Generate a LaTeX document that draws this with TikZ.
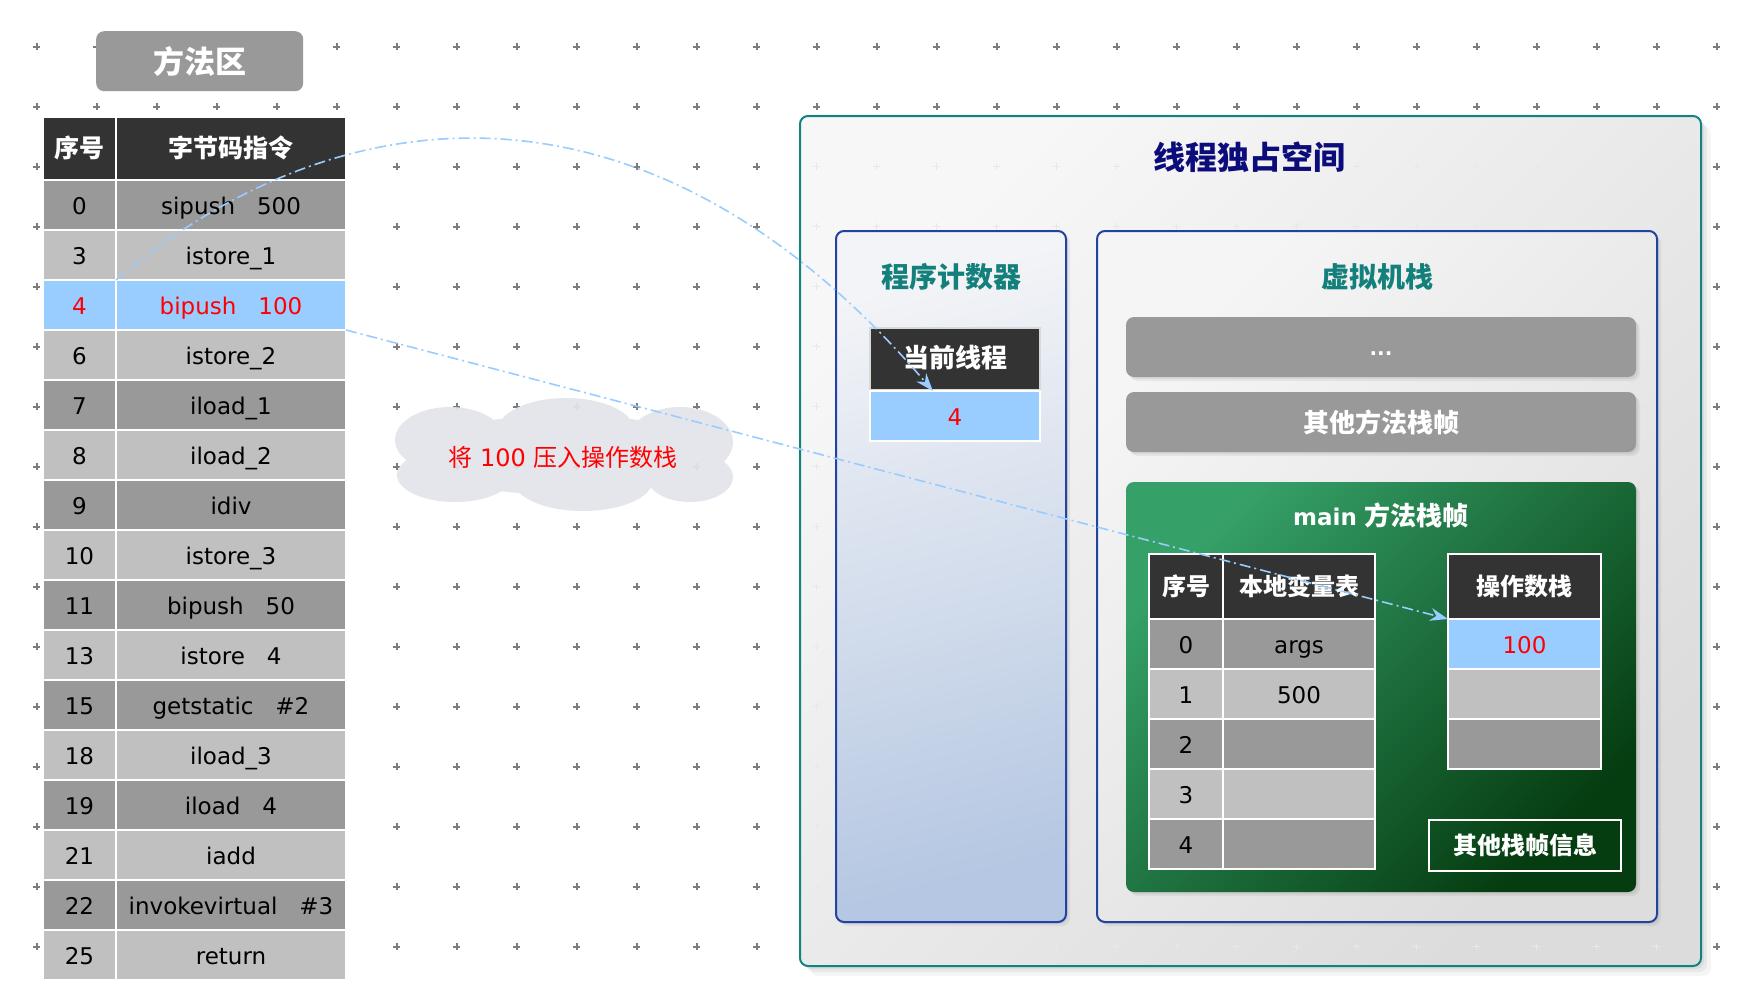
\documentclass[tikz,border=0pt]{standalone}
\usepackage{fontspec}
\setmainfont{DejaVu Sans}
\newfontfamily\cjk{Noto Sans CJK SC}
\usetikzlibrary{arrows.meta,shadows,calc}

\definecolor{celldark}{HTML}{999999}
\definecolor{celllight}{HTML}{C0C0C0}
\definecolor{cellhead}{HTML}{333333}
\definecolor{cellblue}{HTML}{99CCFF}
\definecolor{gridmark}{HTML}{7C7C7C}
\definecolor{tealline}{HTML}{12847F}
\definecolor{navytitle}{HTML}{0C0C7A}
\definecolor{panelline}{HTML}{2244A0}
\definecolor{paneltitle}{HTML}{13807C}
\definecolor{greenlight}{HTML}{35A068}
\definecolor{greendark}{HTML}{053C10}
\definecolor{flowblue}{HTML}{99CCFF}
\definecolor{cloudfill}{HTML}{E2E5EB}
\definecolor{spacetop}{HTML}{F7F7F7}
\definecolor{spacebottom}{HTML}{DCDCDC}
\definecolor{pctop}{HTML}{F3F4F7}
\definecolor{pcbottom}{HTML}{B5C7E2}
\definecolor{vmtop}{HTML}{F5F5F5}
\definecolor{vmbottom}{HTML}{DDDDDD}

\tikzset{
  plusmark/.style={draw=gridmark, line width=1.7pt},
  cell/.style={draw=white, line width=2pt, inner sep=0pt, outer sep=0pt, anchor=north west,
    text height=20pt, text depth=2pt, font=\fontsize{23}{27}\selectfont},
  headcell/.style={cell, fill=cellhead, text=white, text height=21pt, text depth=4pt,
    font=\fontsize{25}{30}\selectfont\cjk\bfseries},
  panel/.style={draw=panelline, line width=2pt, rounded corners=8pt, inner sep=0pt,
    outer sep=0pt, anchor=north west},
  bar/.style={fill=celldark, rounded corners=8pt, inner sep=0pt, outer sep=0pt,
    anchor=north west, text=white, minimum width=510pt, minimum height=60pt,
    font=\fontsize{26}{30}\selectfont\cjk\bfseries},
  paneltitlestyle/.style={text=paneltitle, font=\fontsize{28}{32}\selectfont\cjk\bfseries},
  flow/.style={draw=flowblue, line width=1.6pt,
    dash pattern=on 11pt off 4pt on 2pt off 4pt,
    -{Stealth[length=18pt,width=13pt,inset=6pt]}},
  softshadow/.style={
    general shadow={fill=black,opacity=0.05,shadow xshift=3pt,shadow yshift=-3pt},
    general shadow={fill=black,opacity=0.05,shadow xshift=6pt,shadow yshift=-6pt},
    general shadow={fill=black,opacity=0.04,shadow xshift=10pt,shadow yshift=-10pt}},
  smallshadow/.style={
    general shadow={fill=black,opacity=0.06,shadow xshift=2pt,shadow yshift=-2pt},
    general shadow={fill=black,opacity=0.05,shadow xshift=4pt,shadow yshift=-4pt}},
}

\begin{document}
\begin{tikzpicture}[x=1pt,y=-1pt]
\useasboundingbox (0,0) rectangle (1752,996);
\fill[white] (0,0) rectangle (1752,996);

% background grid of plus marks
\foreach \i in {0,...,28}
  \foreach \j in {0,...,15}
    \draw[plusmark] (36.7+60*\i-3.5,46.7+60*\j) -- ++(7,0)
                    (36.7+60*\i,46.7+60*\j-3.5) -- ++(0,7);

% ---------- method area ----------
\node[anchor=north west, fill=celldark, rounded corners=8pt, minimum width=207pt,
      minimum height=60pt, inner sep=0pt, text=white,
      font=\fontsize{31}{36}\selectfont\cjk\bfseries] (area) at (96,31) {方法区};

\node[headcell, minimum width=73pt, minimum height=63pt] (mh1) at (43,117) {序号};
\node[headcell, minimum width=230pt, minimum height=63pt] (mh2) at (116,117) {字节码指令};

\foreach \k/\num/\code in {0/0/{sipush~~~500}, 1/3/{istore\_1}, 2/4/{bipush~~~100},
    3/6/{istore\_2}, 4/7/{iload\_1}, 5/8/{iload\_2}, 6/9/{idiv}, 7/10/{istore\_3},
    8/11/{bipush~~~50}, 9/13/{istore~~~4}, 10/15/{getstatic~~~\#2}, 11/18/{iload\_3},
    12/19/{iload~~~4}, 13/21/{iadd}, 14/22/{invokevirtual~~~\#3}, 15/25/{return}}{
  \ifnum\k=2 \def\rowfill{cellblue}\def\rowtext{red}%
  \else\ifodd\k \def\rowfill{celllight}\else\def\rowfill{celldark}\fi\def\rowtext{black}\fi
  \node[cell, fill=\rowfill, text=\rowtext, minimum width=73pt, minimum height=50pt]
    (m\k) at (43,180+50*\k) {\num};
  \node[cell, fill=\rowfill, text=\rowtext, minimum width=230pt, minimum height=50pt]
    (b\k) at (116,180+50*\k) {\code};
}

% ---------- note cloud ----------
\fill[cloudfill, fill opacity=0.93]
  (450,440) ellipse [x radius=55, y radius=33]
  (455,475) ellipse [x radius=58, y radius=27]
  (566,430) ellipse [x radius=68, y radius=32]
  (583,480) ellipse [x radius=70, y radius=31]
  (680,442) ellipse [x radius=53, y radius=35]
  (690,477) ellipse [x radius=43, y radius=25]
  (565,455) ellipse [x radius=150, y radius=40];
\node[text=red, font=\fontsize{24}{28}\selectfont] (cloudtext) at (563,457)
  {{\cjk 将}~100~{\cjk 压入操作数栈}};

% ---------- thread-private space ----------
\node[anchor=north west, draw=tealline, line width=2pt, rounded corners=8pt, inner sep=0pt,
      outer sep=0pt, minimum width=901pt, minimum height=850pt,
      top color=spacetop, bottom color=spacebottom, shading angle=45, softshadow]
      (space) at (800,116) {};
\begin{scope}
  \clip[rounded corners=8pt] (space.north west) rectangle (space.south east);
  \foreach \i in {13,...,28}
    \foreach \j in {0,...,15}
      \draw[draw=black!9, line width=1.5pt] (36.7+60*\i-3.5,46.7+60*\j) -- ++(7,0)
                    (36.7+60*\i,46.7+60*\j-3.5) -- ++(0,7);
\end{scope}
\node[text=navytitle, font=\fontsize{32}{36}\selectfont\cjk\bfseries] (spacetitle)
  at (1249,157) {线程独占空间};

% program counter
\node[panel, minimum width=230pt, minimum height=691pt, top color=pctop,
      bottom color=pcbottom, shading angle=15, smallshadow] (pc) at (836,231) {};
\node[paneltitlestyle] (pctitle) at (951,277) {程序计数器};
\node[headcell, draw=white!85!black, line width=1.5pt, minimum width=170pt,
      minimum height=62pt, font=\fontsize{26}{30}\selectfont\cjk\bfseries]
      (pch) at (870,328) {当前线程};
\node[cell, line width=1.5pt, fill=cellblue, text=red, minimum width=170pt,
      minimum height=50pt] (pcv) at (870,391) {4};

% virtual machine stack
\node[panel, minimum width=560pt, minimum height=691pt, top color=vmtop,
      bottom color=vmbottom, shading angle=45, smallshadow] (vm) at (1097,231) {};
\node[paneltitlestyle] (vmtitle) at (1377,277) {虚拟机栈};
\node[bar, smallshadow, text height=16pt, text depth=0pt,
      font=\fontsize{20}{24}\selectfont\bfseries] (dots) at (1126,317) {...};
\node[bar, smallshadow] (otherframes) at (1126,392) {其他方法栈帧};

% main frame
\node[anchor=north west, inner sep=0pt, outer sep=0pt, rounded corners=8pt,
      minimum width=510pt, minimum height=410pt, top color=greenlight,
      bottom color=greendark, shading angle=45, smallshadow] (mainframe) at (1126,482) {};
\node[text=white, font=\fontsize{23}{28}\selectfont\bfseries] (maintitle) at (1381,515)
  {main~{\fontsize{26}{30}\selectfont\cjk 方法栈帧}};

% local variable table
\node[headcell, minimum width=74pt, minimum height=65pt,
      font=\fontsize{24}{28}\selectfont\cjk\bfseries] (lh1) at (1149,554) {序号};
\node[headcell, minimum width=152pt, minimum height=65pt,
      font=\fontsize{24}{28}\selectfont\cjk\bfseries] (lh2) at (1223,554) {本地变量表};
\foreach \k/\val in {0/args, 1/500, 2/, 3/, 4/}{
  \ifodd\k \def\rowfill{celllight}\else\def\rowfill{celldark}\fi
  \node[cell, fill=\rowfill, minimum width=74pt, minimum height=50pt]
    (ln\k) at (1149,619+50*\k) {\k};
  \node[cell, fill=\rowfill, minimum width=152pt, minimum height=50pt]
    (lv\k) at (1223,619+50*\k) {\val};
}

% operand stack
\node[headcell, minimum width=153pt, minimum height=65pt,
      font=\fontsize{24}{28}\selectfont\cjk\bfseries] (osh) at (1448,554) {操作数栈};
\node[cell, fill=cellblue, text=red, minimum width=153pt, minimum height=50pt]
  (os0) at (1448,619) {100};
\node[cell, fill=celllight, minimum width=153pt, minimum height=50pt] (os1) at (1448,669) {};
\node[cell, fill=celldark, minimum width=153pt, minimum height=50pt] (os2) at (1448,719) {};

% other frame info
\node[anchor=north west, draw=white, line width=2pt, inner sep=0pt, outer sep=0pt,
      minimum width=192pt, minimum height=51pt, text=white,
      font=\fontsize{24}{28}\selectfont\cjk\bfseries] (info) at (1429,820) {其他栈帧信息};

% ---------- flow connectors ----------
\draw[flow] (b2.north west) .. controls (340,90) and (650,60) ..
  ($(pcv.north west)!0.37!(pcv.north east)$);
\draw[flow] (b2.south east) -- (os0.north west);

\end{tikzpicture}
\end{document}
